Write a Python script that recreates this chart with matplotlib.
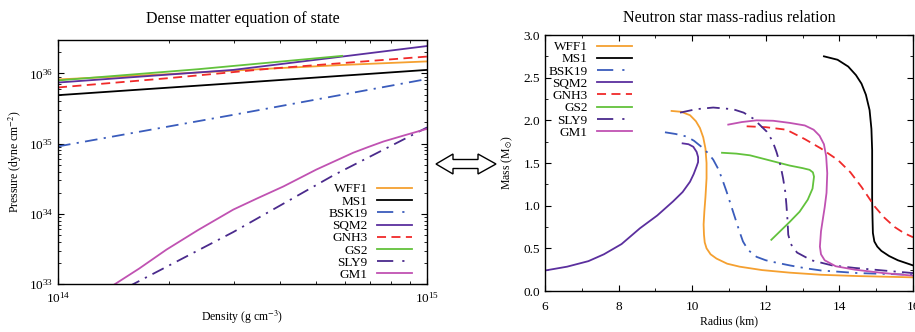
import numpy as np
import matplotlib
matplotlib.use("Agg")
import matplotlib.pyplot as plt
from matplotlib.ticker import LogLocator, LogFormatterMathtext, MultipleLocator, FormatStrFormatter, NullFormatter
from matplotlib.patches import Polygon
from matplotlib.lines import Line2D

plt.rcParams['font.family'] = ['Liberation Serif', 'DejaVu Serif']
plt.rcParams['mathtext.fontset'] = 'stix'

names = ['WFF1', 'MS1', 'BSK19', 'SQM2', 'GNH3', 'GS2', 'SLY9', 'GM1']
colors = {'WFF1': '#f5a030', 'MS1': '#000000', 'BSK19': '#3a5cbc', 'SQM2': '#5b2f9e',
          'GNH3': '#f02a2a', 'GS2': '#62c23c', 'SLY9': '#4a2a8c', 'GM1': '#c052b2'}
dashdot = (0, (7, 3.5, 1.2, 3.5))
dashdotdot = (0, (9, 5, 1.2, 4.5, 1.2, 4.5))
styles = {'WFF1': '-', 'MS1': '-', 'BSK19': dashdot, 'SQM2': '-',
          'GNH3': (0, (5, 3)), 'GS2': '-', 'SLY9': dashdot, 'GM1': '-'}
legend_styles = dict(styles, BSK19=dashdotdot, SLY9=dashdotdot)

# ---- Equation of state: log10 density (g cm^-3) vs log10 pressure (dyne cm^-2) ----
eos_logrho = {
    'WFF1': [14.0, 14.30, 14.58, 14.77, 15.0],
    'MS1': [14.0, 14.475, 15.0],
    'BSK19': [14.0, 14.475, 15.0],
    'SQM2': [14.0, 14.475, 14.77, 15.0],
    'GNH3': [14.0, 14.294, 14.58, 15.0],
    'GS2': [14.0, 14.38, 14.77],
    'SLY9': [14.19, 14.475, 14.747, 15.0],
    'GM1': [14.14, 14.22, 14.294, 14.38, 14.475, 14.54, 14.611, 14.70, 14.80, 14.84,
            14.882, 14.94, 15.0],
}
eos_logP = {
    'WFF1': [35.914, 35.99, 36.07, 36.12, 36.171],
    'MS1': [35.69, 35.86, 36.05],
    'BSK19': [34.96, 35.41, 35.92],
    'SQM2': [35.87, 36.05, 36.24, 36.39],
    'GNH3': [35.80, 35.93, 36.07, 36.24],
    'GS2': [35.90, 36.06, 36.25],
    'SLY9': [32.96, 33.74, 34.55, 35.23],
    'GM1': [32.95, 33.22, 33.49, 33.77, 34.06, 34.22, 34.39, 34.63, 34.87, 34.95,
            35.03, 35.12, 35.21],
}

# ---- Mass-radius relation: radius (km), mass (solar masses) ----
mr_R = {
    'WFF1': [9.44, 9.70, 9.94, 10.10, 10.21, 10.30, 10.36, 10.39, 10.39, 10.36, 10.33, 10.31,
             10.32, 10.34, 10.39, 10.50, 10.66, 10.95, 11.29, 11.9, 12.65, 13.51, 14.5, 16.0],
    'MS1': [13.58, 13.95, 14.24, 14.45, 14.60, 14.72, 14.82, 14.87, 14.89, 14.89, 14.89, 14.90,
            14.91, 14.95, 15.03, 15.14, 15.35, 15.59, 16.0],
    'BSK19': [9.26, 9.55, 9.85, 10.05, 10.25, 10.42, 10.57, 10.72, 10.84, 10.93, 11.02, 11.11,
              11.20, 11.29, 11.38, 11.52, 11.75, 12.0, 12.20, 12.65, 13.1, 13.51, 14.5, 16.0],
    'SQM2': [9.74, 9.90, 10.03, 10.12, 10.16, 10.16, 10.12, 10.04, 9.94, 9.74, 9.48, 9.05,
             8.58, 8.08, 7.6, 7.18, 6.6, 6.0],
    'GNH3': [11.48, 12.0, 12.56, 13.06, 13.5, 13.96, 14.3, 14.60, 14.96, 15.22, 15.50, 15.75, 16.0],
    'GS2': [10.81, 11.2, 11.57, 12.20, 12.65, 13.0, 13.19, 13.28, 13.31, 13.27, 13.14, 12.92,
            12.65, 12.15],
    'SLY9': [9.67, 10.1, 10.57, 11.11, 11.40, 11.66, 12.02, 12.18, 12.29, 12.40, 12.47, 12.53,
             12.56, 12.59, 12.61, 12.68, 12.85, 13.24, 13.8, 14.42, 15.2, 16.0],
    'GM1': [10.98, 11.35, 11.75, 12.2, 12.65, 13.06, 13.30, 13.46, 13.58, 13.64, 13.67, 13.65,
            13.60, 13.56, 13.50, 13.47, 13.50, 13.60, 13.9, 14.42, 15.2, 16.0],
}
mr_M = {
    'WFF1': [2.11, 2.10, 2.06, 1.99, 1.91, 1.80, 1.67, 1.50, 1.32, 1.10, 0.93, 0.78,
             0.66, 0.57, 0.50, 0.43, 0.38, 0.32, 0.285, 0.245, 0.215, 0.19, 0.175, 0.16],
    'MS1': [2.75, 2.71, 2.63, 2.53, 2.43, 2.30, 2.12, 1.90, 1.65, 1.35, 1.07, 0.85,
            0.68, 0.58, 0.52, 0.47, 0.41, 0.36, 0.30],
    'BSK19': [1.86, 1.84, 1.81, 1.76, 1.69, 1.62, 1.54, 1.42, 1.28, 1.17, 1.05, 0.93,
              0.81, 0.69, 0.58, 0.48, 0.40, 0.36, 0.34, 0.30, 0.265, 0.24, 0.21, 0.19],
    'SQM2': [1.73, 1.72, 1.69, 1.63, 1.57, 1.51, 1.46, 1.37, 1.28, 1.16, 1.05, 0.885,
             0.735, 0.55, 0.43, 0.35, 0.285, 0.24],
    'GNH3': [1.93, 1.92, 1.89, 1.78, 1.67, 1.535, 1.39, 1.22, 0.99, 0.86, 0.75, 0.68, 0.63],
    'GS2': [1.62, 1.61, 1.59, 1.52, 1.47, 1.44, 1.42, 1.39, 1.34, 1.20, 1.07, 0.93,
            0.81, 0.60],
    'SLY9': [2.09, 2.13, 2.15, 2.13, 2.09, 2.02, 1.87, 1.76, 1.63, 1.47, 1.32, 1.16,
             1.01, 0.83, 0.66, 0.55, 0.45, 0.36, 0.30, 0.27, 0.24, 0.21],
    'GM1': [1.95, 1.98, 2.00, 1.995, 1.97, 1.94, 1.89, 1.82, 1.72, 1.58, 1.38, 1.15,
            0.98, 0.87, 0.70, 0.52, 0.43, 0.36, 0.29, 0.25, 0.21, 0.18],
}

W, H = 915, 332
fig = plt.figure(figsize=(W / 100, H / 100), dpi=100)

def frac(x0, y0, x1, y1):
    return [x0 / W, 1 - y1 / H, (x1 - x0) / W, (y1 - y0) / H]

ax1 = fig.add_axes(frac(58, 40, 427, 284))
ax2 = fig.add_axes(frac(545, 35, 913, 291))

lw = 1.3
handles = [Line2D([], [], color=colors[n], ls=legend_styles[n], lw=lw) for n in names]

for n in names:
    ax1.plot(10 ** np.array(eos_logrho[n]), 10 ** np.array(eos_logP[n]),
             color=colors[n], ls=styles[n], lw=lw)
ax1.set_xscale('log')
ax1.set_yscale('log')
ax1.set_xlim(1e14, 1e15)
ax1.set_ylim(1e33, 10 ** 36.476)
ax1.xaxis.set_major_locator(LogLocator(base=10, numticks=5))
ax1.xaxis.set_major_formatter(LogFormatterMathtext())
ax1.yaxis.set_major_formatter(LogFormatterMathtext())
ax1.xaxis.set_minor_formatter(NullFormatter())
ax1.yaxis.set_minor_formatter(NullFormatter())
ax1.set_title('Dense matter equation of state', fontsize=11.5, pad=12)
ax1.set_xlabel('Density (g cm$^{-3}$)', fontsize=8.5, labelpad=2)
ax1.set_ylabel('Pressure (dyne cm$^{-2}$)', fontsize=8.5, labelpad=3)
ax1.legend(handles, names, loc='lower right', markerfirst=False, frameon=False, fontsize=9.5,
           handlelength=2.65, labelspacing=0.0, handletextpad=0.7,
           borderaxespad=0.0, borderpad=0.0, bbox_to_anchor=(0.959, 0.012))

for n in names:
    ax2.plot(mr_R[n], mr_M[n], color=colors[n], ls=styles[n], lw=lw)
ax2.set_xlim(6, 16)
ax2.set_ylim(0, 3)
ax2.xaxis.set_major_locator(MultipleLocator(2))
ax2.xaxis.set_minor_locator(MultipleLocator(1))
ax2.yaxis.set_major_locator(MultipleLocator(0.5))
ax2.yaxis.set_minor_locator(MultipleLocator(0.25))
ax2.yaxis.set_major_formatter(FormatStrFormatter('%.1f'))
ax2.set_title('Neutron star mass-radius relation', fontsize=11.5, pad=9)
ax2.set_xlabel('Radius (km)', fontsize=8.5, labelpad=2)
ax2.set_ylabel(r'Mass (M$_{\odot}$)', fontsize=8.5, labelpad=6)
ax2.legend(handles, names, loc='upper right', markerfirst=False, frameon=False, fontsize=9.5,
           handlelength=2.65, labelspacing=0.0, handletextpad=0.7,
           borderaxespad=0.0, borderpad=0.0, bbox_to_anchor=(0.236, 0.977))

for ax in (ax1, ax2):
    ax.tick_params(which='both', direction='in', top=True, right=True, labelsize=9.5)
    ax.tick_params(which='major', length=4, width=0.8)
    ax.tick_params(which='minor', length=2, width=0.6)
    for s in ax.spines.values():
        s.set_linewidth(1.0)
ax2.tick_params(axis='x', pad=7)
ax1.tick_params(axis='x', pad=5)

# hollow double arrow between panels (figure pixel coordinates)
cy = 164
pts = [(436, cy), (453, cy - 10), (453, cy - 4.5), (478, cy - 4.5), (478, cy - 10),
       (496, cy), (478, cy + 10), (478, cy + 4.5), (453, cy + 4.5), (453, cy + 10)]
poly = Polygon([(x / W, 1 - y / H) for x, y in pts], closed=True, fill=False,
               edgecolor='black', lw=1.0, transform=fig.transFigure)
fig.add_artist(poly)

fig.savefig('out.png', dpi=100)
